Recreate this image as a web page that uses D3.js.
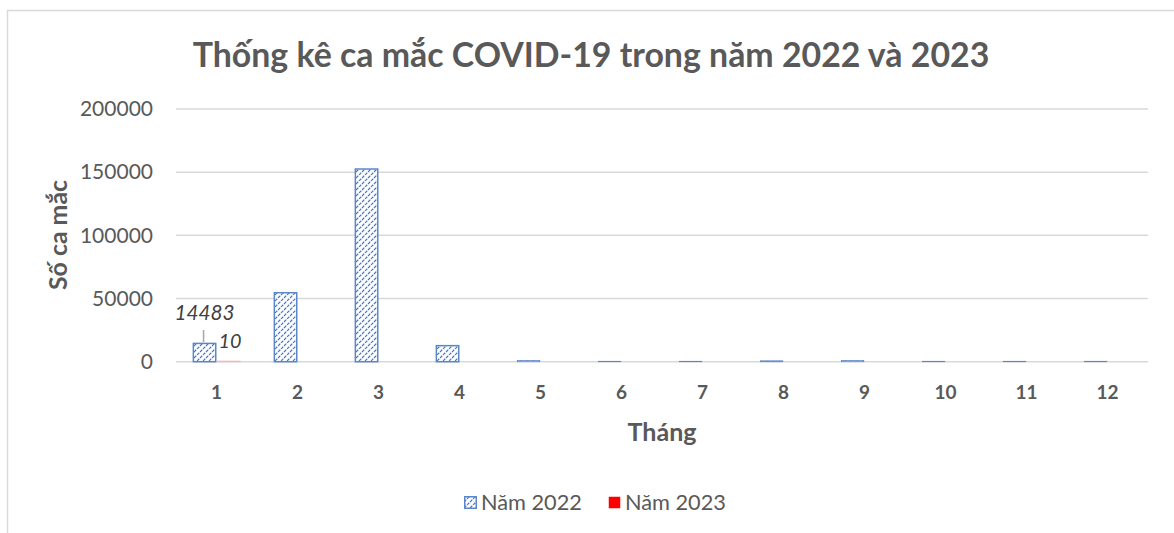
<!DOCTYPE html>
<html><head><meta charset="utf-8">
<script src="https://cdn.jsdelivr.net/npm/d3@7"></script>
<style>body{margin:0;background:#fff}svg{display:block}text{font-family:Lato,"Open Sans",sans-serif}</style>
</head><body><svg id="c" width="1174" height="533"></svg>
<script>
const months = ["1","2","3","4","5","6","7","8","9","10","11","12"];
const seriesNames = ["Năm 2022","Năm 2023"];
const values2022 = [14483, 54600, 152500, 12700, 1000, 300, 300, 700, 1000, 300, 300, 300];
const values2023 = [10, 0, 0, 0, 0, 0, 0, 0, 0, 0, 0, 0];
const yTicks = [0, 50000, 100000, 150000, 200000];
const title = "Thống kê ca mắc COVID-19 trong năm 2022 và 2023";
const xTitle = "Tháng";
const yTitle = "Số ca mắc";

const svg = d3.select("#c");
const m = {left:176, right:1148, top:109, bottom:361.7};
const txt = "#595959";

function fit(sel, target){
  const fs = parseFloat(sel.attr("font-size"));
  const w = sel.node().getComputedTextLength();
  if (w>0) sel.attr("font-size", fs*target/w);
  return sel;
}

svg.append("rect").attr("x",7.5).attr("y",10.5).attr("width",1180).attr("height",540)
  .attr("fill","#fff").attr("stroke","#d9d9d9").attr("stroke-width",1.5);

const defs = svg.append("defs");
const pat = defs.append("pattern").attr("id","hatch").attr("patternUnits","userSpaceOnUse")
  .attr("width",6).attr("height",6);
pat.append("rect").attr("width",6).attr("height",6).attr("fill","#fff");
pat.append("path").attr("d","M-1,7 L7,-1 M-4,4 L4,-4 M2,10 L10,2").attr("stroke","#4472C4")
  .attr("stroke-width",1.2).attr("stroke-dasharray","3.2,1.1");

const x = d3.scaleBand().domain(months).range([m.left, m.right]).paddingInner(0.41).paddingOuter(0.205);
const xs = d3.scaleBand().domain(seriesNames).range([0, x.bandwidth()]);
const y = d3.scaleLinear().domain([0,200000]).range([m.bottom, m.top]);

svg.append("g").selectAll("line").data(yTicks).join("line")
  .attr("x1",m.left).attr("x2",m.right).attr("y1",d=>y(d)).attr("y2",d=>y(d))
  .attr("stroke","#d9d9d9").attr("stroke-width",1.5);

const yAxis = d3.axisLeft(y).tickValues(yTicks).tickSize(0).tickPadding(0).tickFormat(d3.format("d"));
const ya = svg.append("g").attr("transform",`translate(153,0)`).call(yAxis);
ya.select(".domain").remove();
ya.selectAll("text").attr("fill",txt).attr("font-size",21).attr("font-family","Lato,sans-serif");

const xAxis = d3.axisBottom(x).tickSize(0).tickPadding(0);
const xa = svg.append("g").attr("transform",`translate(0,385)`).call(xAxis);
xa.select(".domain").remove();
xa.selectAll("text").attr("fill",txt).attr("font-size",19).attr("font-weight","bold").attr("font-family","Lato,sans-serif");

svg.append("g").selectAll("rect").data(values2022).join("rect")
  .attr("x",(d,i)=>x(months[i])+xs(seriesNames[0])+0.75)
  .attr("width",xs.bandwidth()-1.5)
  .attr("y",d=>y(d))
  .attr("height",d=>Math.max(0,y(0)-y(d)))
  .attr("fill","url(#hatch)").attr("stroke","#5b87c8").attr("stroke-width",d=>d>5000?1.5:0.8);

svg.append("g").selectAll("rect").data(values2023).join("rect")
  .attr("x",(d,i)=>x(months[i])+xs(seriesNames[1]))
  .attr("width",xs.bandwidth())
  .attr("y",d=>y(d)-1)
  .attr("height",d=>d>0?Math.max(1.5,y(0)-y(d)):0)
  .attr("fill","#f4b7b7");

const bx1 = x(months[0])+xs(seriesNames[0])+xs.bandwidth()/2;
svg.append("line").attr("x1",bx1-1).attr("x2",bx1-1).attr("y1",330).attr("y2",342)
  .attr("stroke","#a6a6a6").attr("stroke-width",1.5);
fit(svg.append("text").attr("x",bx1).attr("y",320).attr("text-anchor","middle")
  .attr("font-size",20).attr("font-style","italic").attr("fill","#404040").text(values2022[0]), 60);
fit(svg.append("text").attr("x",x(months[0])+xs(seriesNames[1])+2).attr("y",348).attr("text-anchor","start")
  .attr("font-size",20).attr("font-style","italic").attr("fill","#404040").text(values2023[0]), 23);

fit(svg.append("text").attr("x",591).attr("y",67).attr("text-anchor","middle")
  .attr("font-size",30).attr("font-weight","bold").attr("fill",txt).text(title), 797);
fit(svg.append("text").attr("x",662).attr("y",441).attr("text-anchor","middle")
  .attr("font-size",20).attr("font-weight","bold").attr("fill",txt).text(xTitle), 69);
fit(svg.append("text").attr("transform","translate(67,235) rotate(-90)").attr("text-anchor","middle")
  .attr("font-size",20).attr("font-weight","bold").attr("fill",txt).text(yTitle), 110);

const leg = svg.append("g");
const legItems = [{name:seriesNames[0], fill:"url(#hatch)", stroke:"#5b87c8", x:464},
                  {name:seriesNames[1], fill:"#ff0000", stroke:"none", x:608}];
legItems.forEach(it=>{
  leg.append("rect").attr("x",it.x+0.75).attr("y",496.75).attr("width",11.5).attr("height",11.5)
    .attr("fill",it.fill).attr("stroke",it.stroke).attr("stroke-width",1.5);
  fit(leg.append("text").attr("x",it.x+17).attr("y",510).attr("font-size",20).attr("fill",txt).text(it.name), 101);
});
</script></body></html>
